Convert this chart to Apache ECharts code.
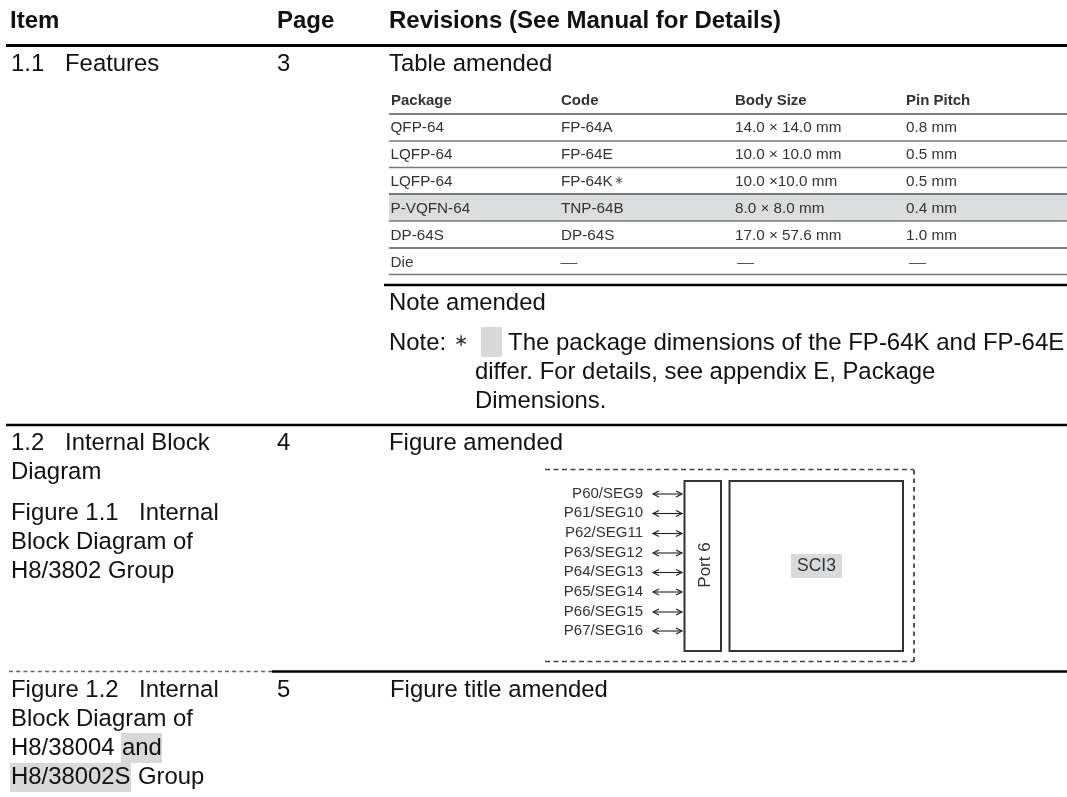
<!DOCTYPE html>
<html><head><meta charset="utf-8">
<style>html,body{margin:0;padding:0;background:#fff}#c{width:1067px;height:797px}</style>
<script src="https://cdn.jsdelivr.net/npm/echarts@6/dist/echarts.min.js"></script>
</head><body><div id="c"></div>
<script>
const columnHeads = ['Item','Page','Revisions (See Manual for Details)'];
const tableHeads = ['Package','Code','Body Size','Pin Pitch'];
const packages = ['QFP-64','LQFP-64','LQFP-64','P-VQFN-64','DP-64S','Die'];
const codes = ['FP-64A','FP-64E','FP-64K∗','TNP-64B','DP-64S','—'];
const bodySizes = ['14.0 × 14.0 mm','10.0 × 10.0 mm','10.0 ×10.0 mm','8.0 × 8.0 mm','17.0 × 57.6 mm','—'];
const pinPitches = ['0.8 mm','0.5 mm','0.5 mm','0.4 mm','1.0 mm','—'];
const pinLabels = ['P60/SEG9','P61/SEG10','P62/SEG11','P63/SEG12','P64/SEG13','P65/SEG14','P66/SEG15','P67/SEG16'];

const FF = '"Liberation Sans",Arial,sans-serif';
const els = [];
const BODY = 23.9, HEAD = 24, SMALL = 15.25;
function T(text,x,base,size,o){o=o||{};
  els.push({type:'text',silent:true,z:5,x:x,y:base-0.347*size,
    style:{text:text,x:0,y:0,align:o.align||'left',verticalAlign:'middle',
    font:(o.bold?'bold ':'')+size+'px '+FF,fill:o.fill||'#111'}});
}
function R(x,y,w,h,fill){els.push({type:'rect',silent:true,z:1,shape:{x,y,width:w,height:h},style:{fill}});}
function L(x1,y1,x2,y2,w,c,dash){els.push({type:'line',silent:true,z:3,shape:{x1,y1,x2,y2},style:{stroke:c||'#000',lineWidth:w,lineDash:dash||null}});}

// main header
T(columnHeads[0],10,30,HEAD,{bold:true});
T(columnHeads[1],277,30,HEAD,{bold:true});
T(columnHeads[2],389,30,HEAD,{bold:true});
L(6,45.5,1067,45.5,3,'#000');

// section 1.1
T('1.1',11,73,BODY);T('Features',65,73,BODY);T('3',277,73,BODY);T('Table amended',389,73,BODY);

// inner table
const colX=[391,561,735,906], colDash=[0,560.5,737,909];
const ink='#333';
tableHeads.forEach((h,i)=>T(h,colX[i],106,15,{bold:true,fill:ink}));
R(389,194,678,27,'#dcddde');
[114,141,167.5,194,221,248,274.5].forEach((y,i)=>L(389,y,1067,y,1.5,[0,3,5].includes(i)?'#555':'#777'));
const rowBase=[133,160,187,214,241,268];
packages.forEach((p,i)=>{
  T(p,390.5,rowBase[i],SMALL,{fill:ink});
  [codes,bodySizes,pinPitches].forEach((arr,j)=>{
    if(arr[i]==='—'){L(colDash[j+1],263.5,colDash[j+1]+17,263.5,1,'#555');}
    else if(arr[i].endsWith('∗')){
      T(arr[i].slice(0,-1),colX[j+1],rowBase[i],SMALL,{fill:ink});
      T('∗',614,184.8,12,{fill:'#555'});
    }
    else T(arr[i],colX[j+1],rowBase[i],SMALL,{fill:ink});
  });
});
L(384,285,1067,285,2.5,'#000');

// notes
T('Note amended',389,312,BODY);
R(481,327,21,30,'#d9d9d9');
T('Note:',389,352,BODY);T('∗',454,347.5,17,{fill:'#333'});
T('The package dimensions of the FP-64K and FP-64E',508,352,24);
T('differ. For details, see appendix E, Package',475,381,BODY);
T('Dimensions.',475,410,BODY);
L(6,425,1067,425,2.5,'#000');

// section 1.2
T('1.2',11,452,BODY);T('Internal Block',65,452,BODY);T('4',277,452,BODY);T('Figure amended',389,452,BODY);
T('Diagram',11,481,BODY);
T('Figure 1.1',11,522,BODY);T('Internal',139,522,BODY);
T('Block Diagram of',11,551,BODY);T('H8/3802 Group',11,580,BODY);

// figure
const dash=[5,3.5];
L(545,469.5,914,469.5,1.4,'#444',dash);
L(545,661.5,914,661.5,1.4,'#444',dash);
L(914,470,914,662,1.8,'#444',[4.5,4]);
els.push({type:'rect',silent:true,z:3,shape:{x:684.5,y:481,width:36.5,height:170},style:{fill:'none',stroke:'#333',lineWidth:2}});
els.push({type:'rect',silent:true,z:3,shape:{x:729.5,y:481,width:173.5,height:170},style:{fill:'none',stroke:'#333',lineWidth:2}});
R(791,554,51,24,'#d9dadb');
T('SCI3',816.5,572,17.5,{align:'center',fill:ink});
els.push({type:'text',silent:true,z:5,x:705.5,y:565,rotation:Math.PI/2,
  style:{text:'Port 6',x:0,y:0,align:'center',verticalAlign:'middle',font:'17px '+FF,fill:ink}});
const pinY=[494,513.5,533.5,553,572.5,592,612,631];
pinLabels.forEach((p,i)=>{
  const y=pinY[i];
  T(p,643,y+4.6,15,{align:'right',fill:ink});
  L(654,y,681,y,1.1,'#222');
  els.push({type:'polyline',silent:true,z:4,shape:{points:[[659,y-3],[653,y],[659,y+3]]},style:{fill:'none',stroke:'#222',lineWidth:1.2}});
  els.push({type:'polyline',silent:true,z:4,shape:{points:[[676,y-3],[682,y],[676,y+3]]},style:{fill:'none',stroke:'#222',lineWidth:1.2}});
});

// separator
L(9,671.5,272,671.5,1.5,'#666',[4,3.2]);
L(272,671.5,1067,671.5,2.5,'#000');

// section figure 1.2
R(121,733,41,30,'#d9d9d9');R(10,763,121,29,'#d9d9d9');
T('Figure 1.2',11,699,BODY);T('Internal',139,699,BODY);T('5',277,699,BODY);T('Figure title amended',390,699,BODY);
T('Block Diagram of',11,728,BODY);T('H8/38004',11,757,BODY);T('and',122,757,BODY);
T('H8/38002S',11,786,BODY);T('Group',138,786,BODY);

const chart=echarts.init(document.getElementById('c'),null,{renderer:'canvas'});
chart.setOption({animation:false,backgroundColor:'#fff',graphic:{elements:els}});
</script></body></html>
